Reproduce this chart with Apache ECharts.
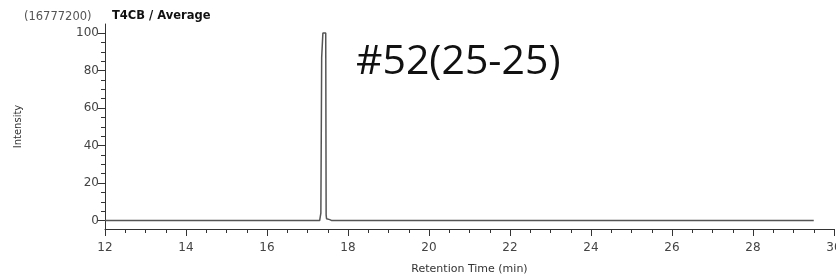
<!DOCTYPE html>
<html>
<head>
<meta charset="utf-8">
<script src="https://cdn.jsdelivr.net/npm/echarts@6/dist/echarts.min.js"></script>
<style>
html, body { margin: 0; padding: 0; background: #fff; }
#main { width: 836px; height: 279px; }
</style>
</head>
<body>
<div id="main"></div>
<script>
// retention time (min) and intensity (%)
var times = [12, 17.30, 17.32, 17.33, 17.35, 17.37, 17.38, 17.45, 17.46, 17.47, 17.55, 17.60, 29.5];
var intensity = [0, 0, 0.5, 4, 87, 88, 100, 100, 3, 1, 0.5, 0, 0];
var yMajor = [0, 20, 40, 60, 80, 100];
var yMinor = [0, 5, 10, 15, 20, 25, 30, 35, 40, 45, 50, 55, 60, 65, 70, 75, 80, 85, 90, 95, 100];

var chart = echarts.init(document.getElementById('main'));
var trace = times.map(function (t, i) { return [t, intensity[i]]; });
var axisColor = '#333';
var labelFont = { color: '#444', fontSize: 12, fontFamily: 'DejaVu Sans' };

var option = {
    animation: false,
    backgroundColor: '#fff',
    title: [
        {
            text: '(16777200)',
            left: 19, top: 6,
            textStyle: { color: '#555', fontSize: 11.5, fontWeight: 'normal', fontFamily: 'DejaVu Sans' }
        },
        {
            text: 'T4CB / Average',
            left: 107, top: 5,
            textStyle: { color: '#111', fontSize: 11.5, fontWeight: 'bold', fontFamily: 'DejaVu Sans' }
        },
        {
            text: '#52(25-25)',
            left: 351, top: 37,
            textStyle: { color: '#111', fontSize: 41, fontWeight: 'normal', fontFamily: 'Open Sans' }
        }
    ],
    grid: { left: 105, right: 2, top: 24, bottom: 50, outerBoundsMode: 'none' },
    xAxis: {
        type: 'value',
        min: 12, max: 30, interval: 2,
        name: 'Retention Time (min)',
        nameLocation: 'middle',
        nameGap: 35,
        nameTextStyle: { color: '#333', fontSize: 11, fontFamily: 'DejaVu Sans' },
        axisLine: { onZero: false, lineStyle: { color: axisColor, width: 1 } },
        axisTick: { length: 7, lineStyle: { color: axisColor } },
        minorTick: { show: true, splitNumber: 4, length: 4, lineStyle: { color: axisColor } },
        axisLabel: Object.assign({ margin: 13 }, labelFont),
        splitLine: { show: false }
    },
    yAxis: [
        {
            type: 'value',
            min: -4.5, max: 104.8,
            name: 'Intensity',
            nameLocation: 'middle',
            nameGap: 82,
            nameTextStyle: { color: '#333', fontSize: 10, fontFamily: 'DejaVu Sans' },
            axisLine: { show: true, onZero: false, lineStyle: { color: axisColor, width: 1 } },
            axisTick: { show: true, length: 7, customValues: yMajor, lineStyle: { color: axisColor } },
            axisLabel: Object.assign({ margin: 6, customValues: yMajor }, labelFont),
            splitLine: { show: false }
        },
        {
            type: 'value',
            min: -4.5, max: 104.8,
            position: 'left',
            axisLine: { show: false, onZero: false },
            axisTick: { show: true, length: 4, customValues: yMinor, lineStyle: { color: axisColor } },
            axisLabel: { show: false },
            splitLine: { show: false }
        }
    ],
    series: [
        {
            type: 'line',
            data: trace,
            showSymbol: false,
            lineStyle: { color: '#555', width: 1.5 }
        }
    ]
};
chart.setOption(option);
</script>
</body>
</html>
